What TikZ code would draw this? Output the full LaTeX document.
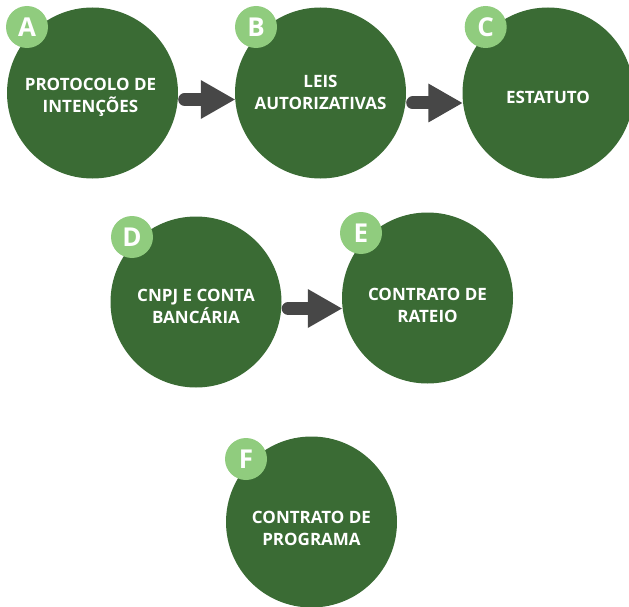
\documentclass[tikz,border=0pt]{standalone}
\usepackage{fontspec}
\setmainfont{Open Sans}
\usetikzlibrary{arrows.meta,positioning}
\definecolor{verdeesc}{RGB}{58,107,52}
\definecolor{verdecla}{RGB}{144,204,126}
\definecolor{cinza}{RGB}{71,71,71}
\tikzset{
  etapa/.style={circle,fill=verdeesc,minimum size=171pt,inner sep=0pt},
  rotulo/.style={text=white,font=\fontsize{17}{22}\selectfont\bfseries,align=center,inner sep=0pt},
  letra/.style={circle,fill=verdecla,minimum size=42pt,inner sep=0pt,text=white,
                font=\fontsize{26}{26}\selectfont\bfseries},
  seta/.style={draw=cinza,line width=13pt,line cap=round,
               -{Triangle[length=34pt,width=39pt,line width=0pt]}},
}

\begin{document}
\begin{tikzpicture}[x=1pt,y=-1pt]
  \useasboundingbox (0,0) rectangle (629,607);
  % etapas
  \node[etapa] (a) at (92.5,93) {};
  \node[etapa] (b) at (320.5,93) {};
  \node[etapa] (c) at (548,93) {};
  \node[etapa] (d) at (196,302) {};
  \node[etapa] (e) at (427.5,298) {};
  \node[etapa] (f) at (311.5,522) {};
  % textos
  \node[rotulo] (ta) at ([xshift=-2pt,yshift=-4.5pt]a.center) {PROTOCOLO DE\\INTENÇÕES};
  \node[rotulo] (tb) at ([yshift=1pt]b.center) {LEIS\\AUTORIZATIVAS};
  \node[rotulo] (tc) at ([yshift=-4pt]c.center) {ESTATUTO};
  \node[rotulo] (td) at ([yshift=-4.5pt]d.center) {CNPJ E CONTA\\BANCÁRIA};
  \node[rotulo] (te) at ([yshift=-7.5pt]e.center) {CONTRATO DE\\RATEIO};
  \node[rotulo] (tf) at ([yshift=-6pt]f.center) {CONTRATO DE\\PROGRAMA};
  % letras
  \node[letra] (la) at (27,27) {A};
  \node[letra] (lb) at (256,27) {B};
  \node[letra] (lc) at (485.7,27) {C};
  \node[letra] (ld) at (132,237) {D};
  \node[letra] (le) at (361,233) {E};
  \node[letra] (lf) at (246,459) {F};
  % setas
  \draw[seta] ([xshift=6.5pt,yshift=-6.5pt]a.east) -- ([yshift=-6.5pt]b.west);
  \draw[seta] ([xshift=6.5pt,yshift=-10pt]b.east) -- ([yshift=-10pt]c.west);
  \draw[seta] ([xshift=6.5pt,yshift=-6.5pt]d.east) -- ([yshift=-6.5pt]d.east -| e.west);
\end{tikzpicture}
\end{document}
